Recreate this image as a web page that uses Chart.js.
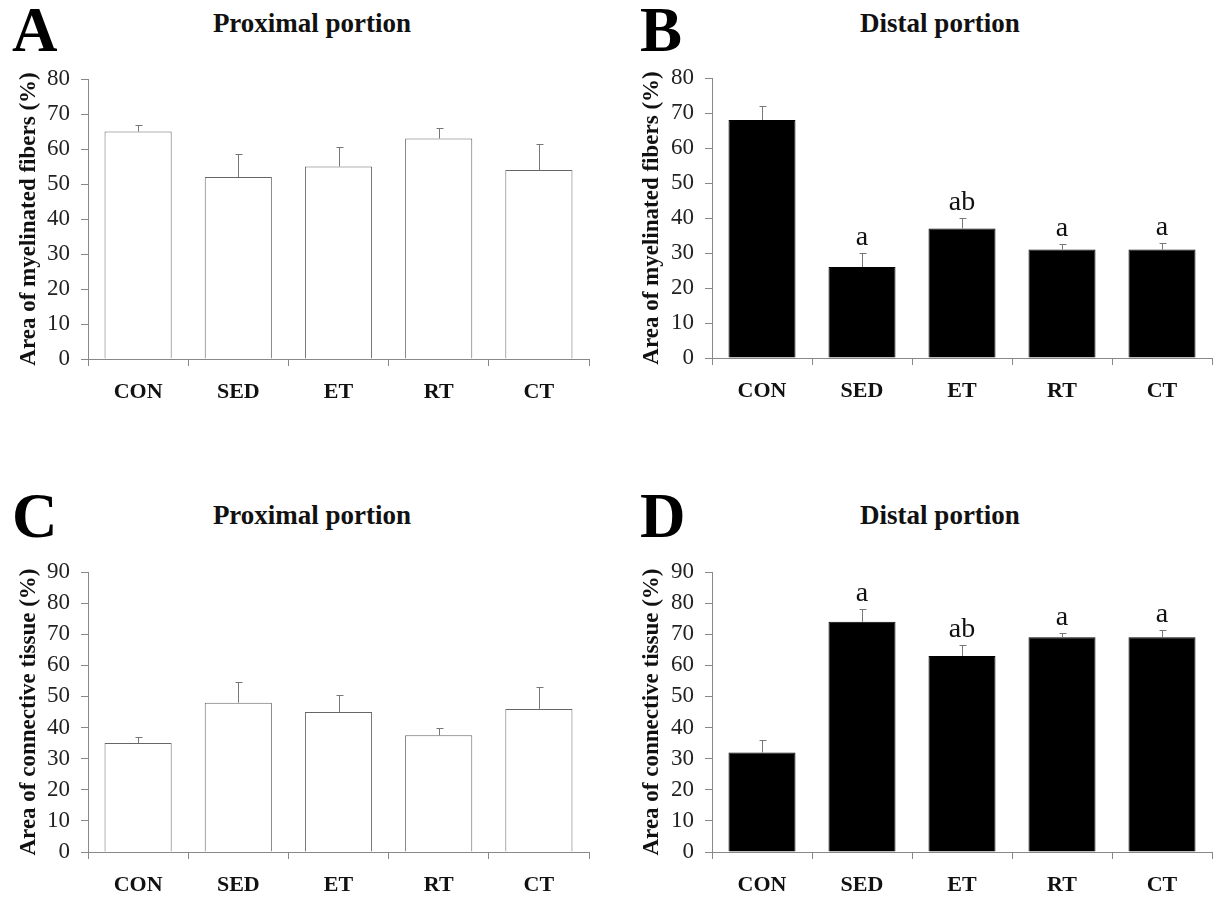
<!DOCTYPE html>
<html>
<head>
<meta charset="utf-8">
<script src="https://cdn.jsdelivr.net/npm/chart.js@4.4.1/dist/chart.umd.min.js"></script>
<style>
  body { margin: 0; background: #fff; width: 1218px; height: 901px; position: relative; overflow: hidden; font-family: "Liberation Serif", serif; }
  canvas { position: absolute; }
  .letter { position: absolute; font-weight: bold; font-size: 63px; line-height: 1; color: #000; }
  .title { position: absolute; font-weight: bold; font-size: 27px; line-height: 1; transform: translateX(-50%); white-space: nowrap; color: #111; }
</style>
</head>
<body>
<div class="letter" style="left:12px;top:-1px">A</div>
<div class="title" style="left:312px;top:10px">Proximal portion</div>
<div class="letter" style="left:640px;top:-1px">B</div>
<div class="title" style="left:940px;top:10px">Distal portion</div>
<div class="letter" style="left:12px;top:485px">C</div>
<div class="title" style="left:312px;top:502px">Proximal portion</div>
<div class="letter" style="left:640px;top:485px">D</div>
<div class="title" style="left:940px;top:502px">Distal portion</div>

<canvas id="chartA" width="609" height="450" style="left:0;top:0"></canvas>
<canvas id="chartB" width="609" height="450" style="left:609px;top:0"></canvas>
<canvas id="chartC" width="609" height="451" style="left:0;top:450px"></canvas>
<canvas id="chartD" width="609" height="451" style="left:609px;top:450px"></canvas>

<script>
const groups = ['CON', 'SED', 'ET', 'RT', 'CT'];

// area of myelinated fibers (%), mean and upper error
const proxMyelin = [65, 52, 55, 63, 54];
const proxMyelinErr = [2, 6.5, 5.5, 3, 7.3];
const distMyelin = [68, 26, 37, 31, 31];
const distMyelinErr = [4, 4, 3, 1.5, 2];

// area of connective tissue (%)
const proxConn = [35, 48, 45, 37.5, 46];
const proxConnErr = [2, 6.5, 5.5, 2.5, 7];
const distConn = [32, 74, 63, 69, 69];
const distConnErr = [4, 4, 3.5, 1.5, 2.3];

// significance letters over distal bars
const distLetters = ['', 'a', 'ab', 'a', 'a'];

const serif = 'Liberation Serif';

// draws the upper error bar + optional letter above it
const errorBarPlugin = {
    id: 'errorBars',
    afterDatasetsDraw(chart, args, opts) {
        const ctx = chart.ctx;
        const yScale = chart.scales.y;
        const values = chart.data.datasets[0].data;
        const meta = chart.getDatasetMeta(0);
        ctx.save();
        ctx.strokeStyle = opts.color;
        ctx.lineWidth = 1;
        meta.data.forEach((bar, i) => {
            const base = yScale.getPixelForValue(values[i]);
            const top = yScale.getPixelForValue(values[i] + opts.errors[i]);
            const x = Math.round(bar.x) + 0.5;
            const t = Math.round(top) + 0.5;
            ctx.beginPath();
            ctx.moveTo(x, base);
            ctx.lineTo(x, t);
            ctx.moveTo(x - 3, t);
            ctx.lineTo(x + 4, t);
            ctx.stroke();
            const lbl = opts.letters ? opts.letters[i] : '';
            if (lbl) {
                ctx.fillStyle = '#111';
                ctx.font = '28px "' + serif + '"';
                ctx.textAlign = 'center';
                ctx.textBaseline = 'alphabetic';
                ctx.fillText(lbl, bar.x, top - 8);
            }
        });
        ctx.restore();
    }
};

function makeChart(id, values, errors, yMax, yTitle, dark, letters, pad) {
    return new Chart(document.getElementById(id), {
        type: 'bar',
        data: {
            labels: groups,
            datasets: [{
                data: values,
                backgroundColor: dark ? '#000' : '#fff',
                borderColor: dark ? '#000' : '#666',
                borderWidth: 1,
                barPercentage: 0.67,
                categoryPercentage: 1
            }]
        },
        options: {
            responsive: false,
            animation: false,
            devicePixelRatio: 1,
            layout: { padding: { left: pad.left, top: pad.top, right: pad.right, bottom: 0 } },
            plugins: {
                legend: { display: false },
                tooltip: { enabled: false },
                errorBars: { errors: errors, letters: letters, color: '#777' }
            },
            scales: {
                x: {
                    grid: { offset: true, drawOnChartArea: false, drawTicks: true, tickLength: 7, color: '#888' },
                    border: { color: '#888' },
                    ticks: { color: '#111', padding: 13, font: { family: serif, size: 22, weight: 'bold' } },
                    afterFit(s) { s.height = pad.xh; }
                },
                y: {
                    min: 0,
                    max: yMax,
                    ticks: { stepSize: 10, color: '#222', padding: 11, font: { family: serif, size: 23 } },
                    grid: { drawOnChartArea: false, tickLength: 7, color: '#888' },
                    border: { color: '#888' },
                    title: {
                        display: true,
                        text: yTitle,
                        color: '#111',
                        font: { family: serif, size: 23, weight: 'bold' },
                        padding: { top: pad.tt, bottom: 0 }
                    },
                    afterFit(s) { s.width = 88; }
                }
            }
        },
        plugins: [errorBarPlugin]
    });
}

makeChart('chartA', proxMyelin, proxMyelinErr, 80, 'Area of myelinated fibers (%)', false, null,
    { left: 0, top: 79, right: 20, xh: 91, tt: 15 });
makeChart('chartB', distMyelin, distMyelinErr, 80, 'Area of myelinated fibers (%)', true, distLetters,
    { left: 15, top: 78, right: 6, xh: 92, tt: 14 });
makeChart('chartC', proxConn, proxConnErr, 90, 'Area of connective tissue (%)', false, null,
    { left: 0, top: 122, right: 20, xh: 49, tt: 15 });
makeChart('chartD', distConn, distConnErr, 90, 'Area of connective tissue (%)', true, distLetters,
    { left: 15, top: 122, right: 6, xh: 49, tt: 14 });
</script>
</body>
</html>
